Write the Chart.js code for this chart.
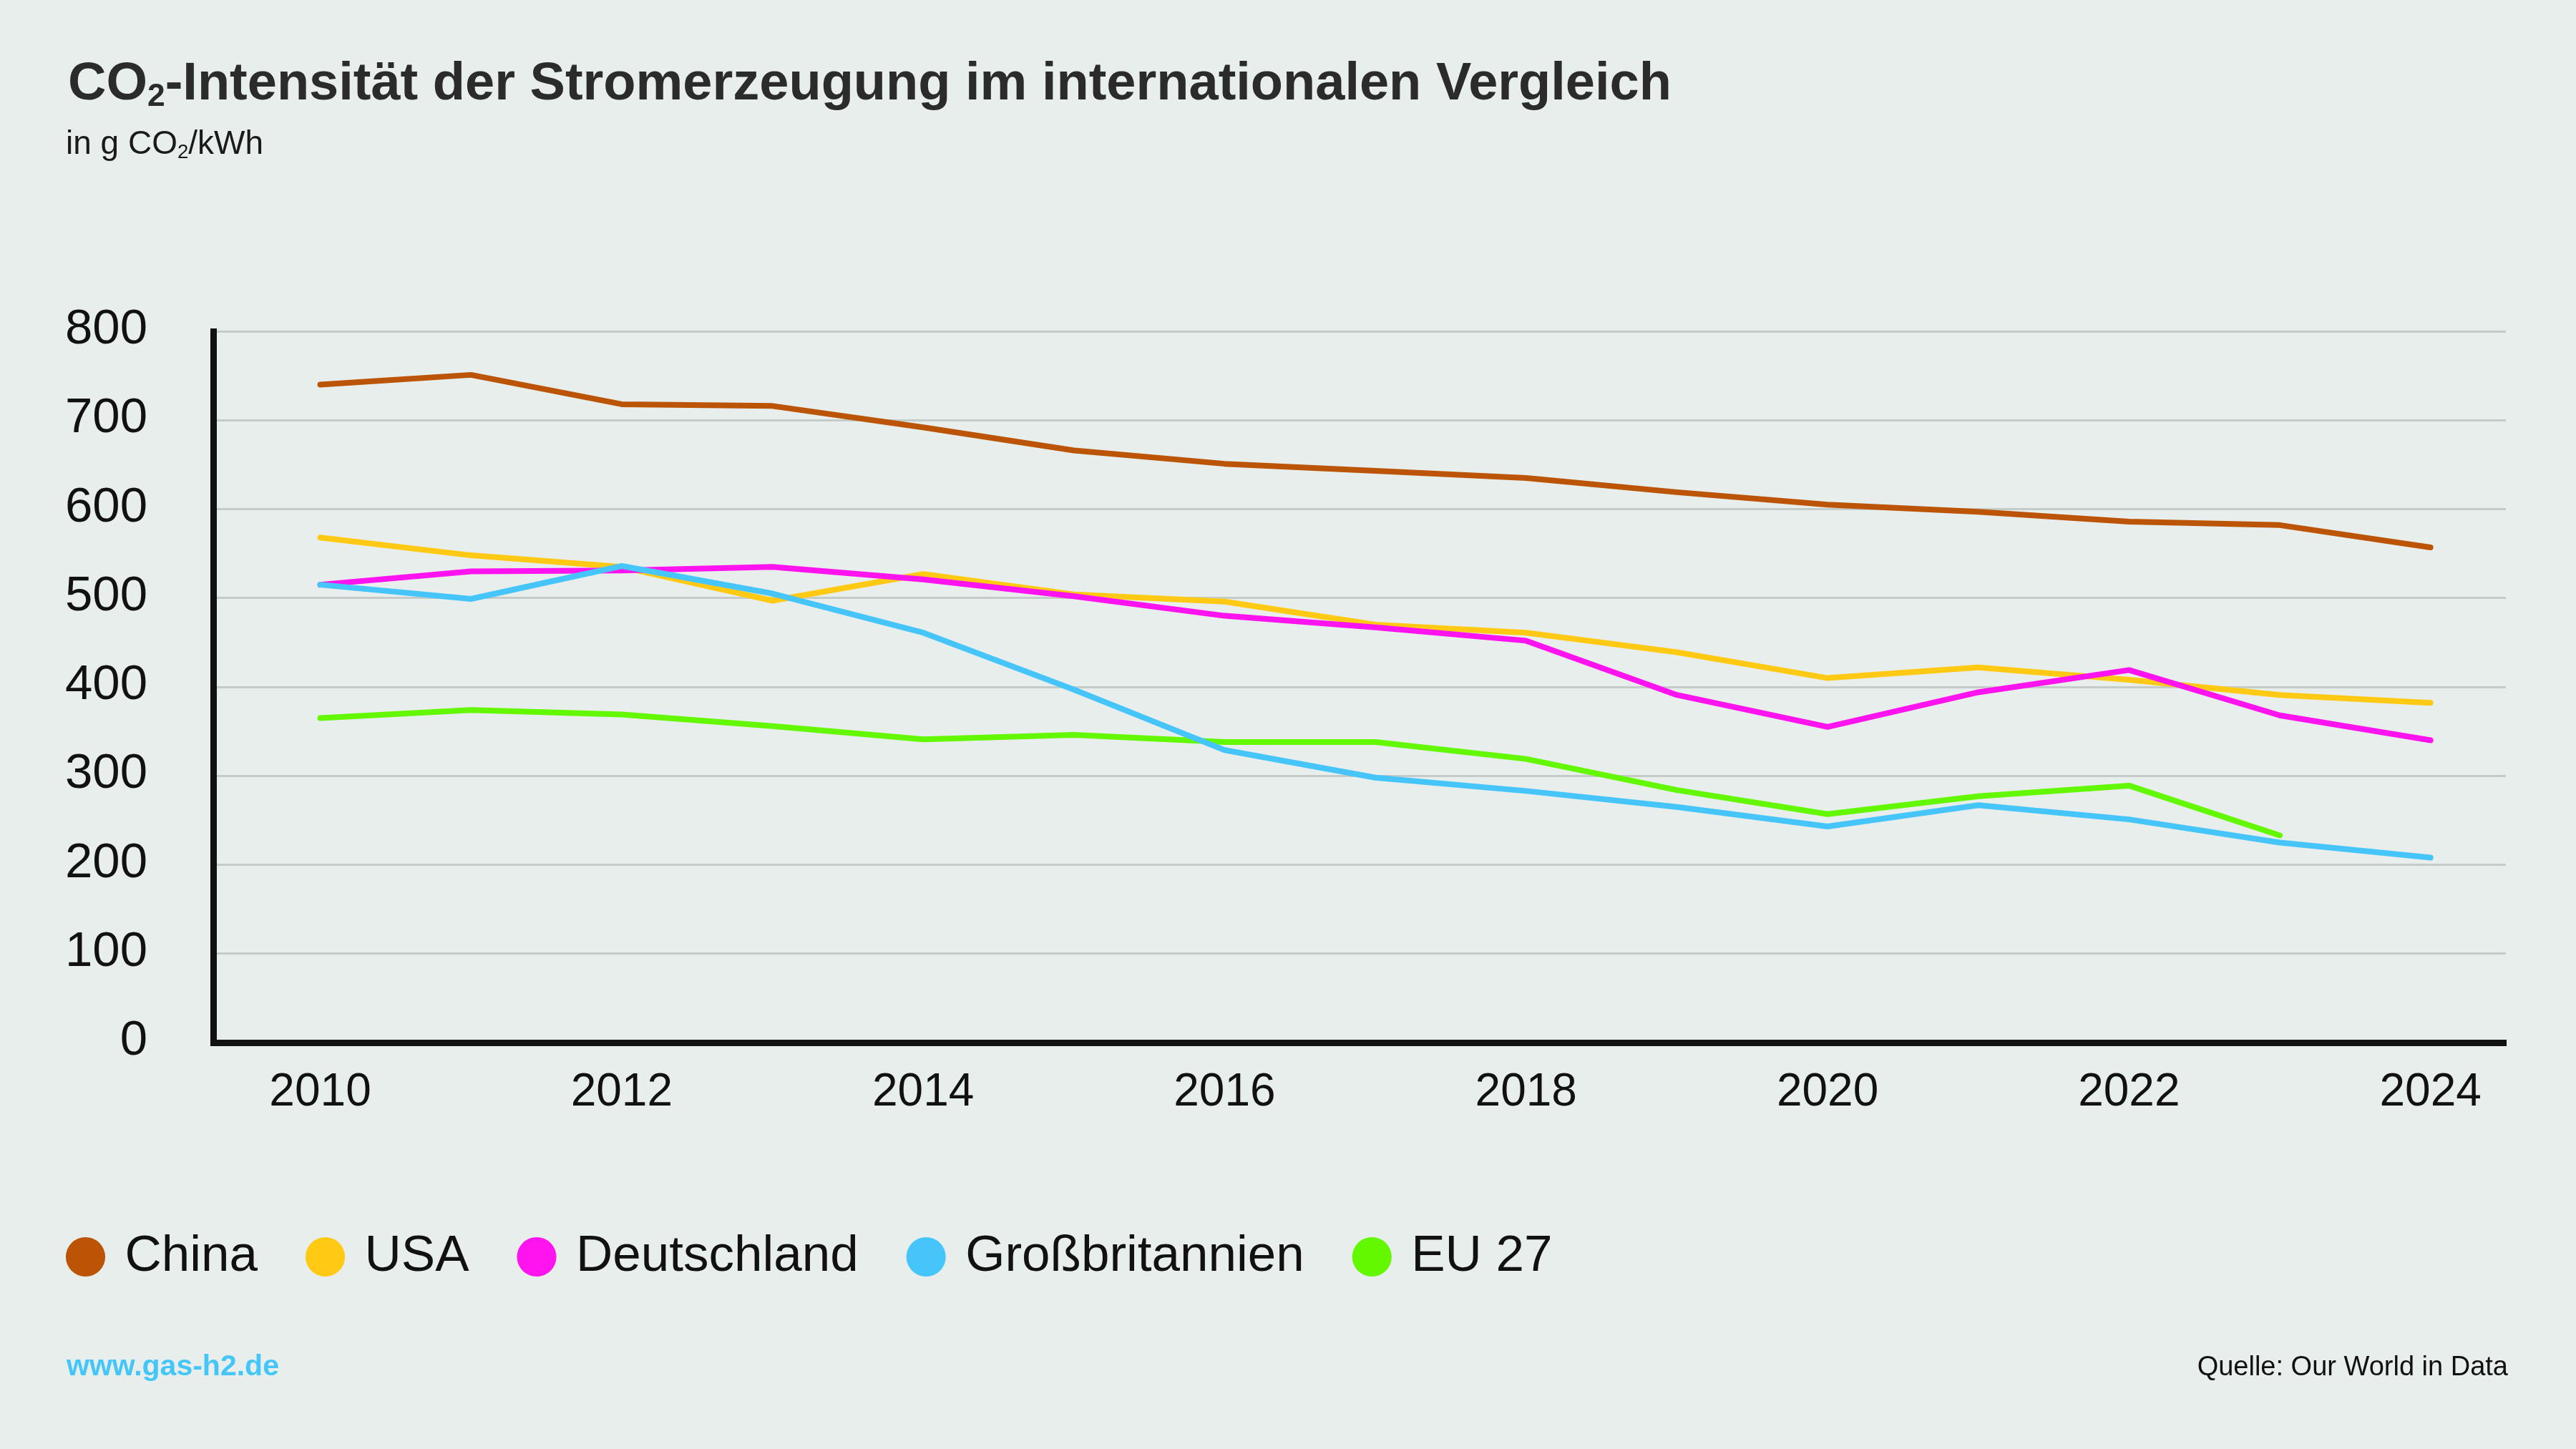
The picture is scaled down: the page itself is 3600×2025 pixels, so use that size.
<!DOCTYPE html>
<html lang="de">
<head>
  <meta charset="UTF-8">
  <title>CO2-Intensität der Stromerzeugung</title>
  <script src="https://cdn.jsdelivr.net/npm/chart.js"></script>
</head>
<style>
  body {
    margin: 0;
    background-color: #e8eeeb;
    font-family: 'Liberation Sans', Arial, sans-serif;
  }
  #wrap {
    position: relative;
    width: 3600px;
    height: 2025px;
  }
  #wrap canvas {
    position: absolute;
    left: 0;
    top: 0;
  }
  .txt {
    position: absolute;
    white-space: nowrap;
  }
  #titel {
    left: 95px;
    top: 77px;
    font-size: 74px;
    line-height: 74px;
    font-weight: bold;
    color: #2b2b2b;
  }
  #untertitel {
    left: 92px;
    top: 176px;
    font-size: 46px;
    line-height: 46px;
    color: #1a1a1a;
  }
  .tief {
    font-size: 0.6em;
    position: relative;
    top: 0.2em;
  }
  #web {
    left: 93px;
    top: 1888px;
    font-size: 41px;
    line-height: 41px;
    font-weight: bold;
    color: #45c6f8;
  }
  #quelle {
    right: 95px;
    top: 1890px;
    font-size: 38px;
    line-height: 38px;
    color: #111;
  }
</style>
<body>
  <div id="wrap">
    <canvas id="co2Chart" width="3600" height="2025"></canvas>
    <div class="txt" id="titel">CO<span class="tief">2</span>-Intensität der Stromerzeugung im internationalen Vergleich</div>
    <div class="txt" id="untertitel">in g CO<span class="tief">2</span>/kWh</div>
    <div class="txt" id="web">www.gas-h2.de</div>
    <div class="txt" id="quelle">Quelle: Our World in Data</div>
  </div>
  <script>
    // Jahre und Werte (g CO2/kWh)
    const jahre = [2010, 2011, 2012, 2013, 2014, 2015, 2016, 2017, 2018, 2019, 2020, 2021, 2022, 2023, 2024];
    const china = [740, 751, 718, 716, 692, 666, 651, 643, 635, 619, 605, 597, 586, 582, 557];
    const usa = [568, 548, 535, 497, 527, 504, 496, 470, 461, 439, 410, 422, 408, 391, 382];
    const deutschland = [515, 530, 531, 535, 521, 502, 480, 467, 452, 391, 355, 394, 419, 368, 340];
    const grossbritannien = [515, 499, 536, 505, 461, 397, 329, 298, 283, 265, 243, 267, 251, 225, 208];
    const eu27 = [365, 374, 369, 356, 341, 346, 338, 338, 319, 284, 257, 277, 289, 233, null];
    const xTicks = [2010, 2012, 2014, 2016, 2018, 2020, 2022, 2024];

    const punkte = werte => jahre.map((j, i) => ({x: j, y: werte[i]}));

    Chart.defaults.font.family = "'Liberation Sans', Arial, sans-serif";
    Chart.defaults.color = '#111';

    const linie = (label, werte, farbe, order) => ({
      label: label,
      data: punkte(werte),
      borderColor: farbe,
      backgroundColor: farbe,
      borderWidth: 8,
      borderCapStyle: 'round',
      borderJoinStyle: 'round',
      pointRadius: 0,
      tension: 0,
      spanGaps: false,
      order: order
    });

    const ctx = document.getElementById('co2Chart').getContext('2d');
    new Chart(ctx, {
      type: 'line',
      data: {
        datasets: [
          linie('China', china, '#bb5505', 5),
          linie('USA', usa, '#ffc914', 4),
          linie('Deutschland', deutschland, '#ff13ee', 3),
          linie('Großbritannien', grossbritannien, '#45c5fa', 1),
          linie('EU 27', eu27, '#63f700', 2)
        ]
      },
      options: {
        responsive: false,
        animation: false,
        devicePixelRatio: 1,
        layout: {
          padding: {left: 25, right: 98, top: 463, bottom: 223}
        },
        plugins: {
          tooltip: {enabled: false},
          legend: {
            position: 'bottom',
            align: 'start',
            labels: {
              usePointStyle: true,
              pointStyle: 'circle',
              boxWidth: 39,
              boxHeight: 39,
              padding: 75,
              color: '#111',
              font: {size: 71},
              sort: (a, b) => a.datasetIndex - b.datasetIndex,
              generateLabels: chart => Chart.defaults.plugins.legend.labels.generateLabels(chart)
                .map(l => Object.assign(l, {lineWidth: 0}))
            }
          }
        },
        scales: {
          x: {
            type: 'linear',
            min: 2009.29,
            max: 2024.5,
            grid: {display: false, drawTicks: false},
            border: {color: '#111', width: 9},
            ticks: {
              padding: 32,
              font: {size: 64},
              color: '#111',
              callback: v => String(v)
            },
            afterBuildTicks: s => { s.ticks = xTicks.map(v => ({value: v})); },
            afterFit: s => { s.height = 189; }
          },
          y: {
            min: 0,
            max: 800,
            grid: {color: '#c3ccc9', lineWidth: 3, drawTicks: false},
            border: {color: '#111', width: 9},
            ticks: {
              stepSize: 100,
              padding: 92,
              labelOffset: -2,
              font: {size: 69},
              color: '#111'
            },
            afterFit: s => { s.width = 298 - 25; }
          }
        }
      }
    });
  </script>
</body>
</html>
